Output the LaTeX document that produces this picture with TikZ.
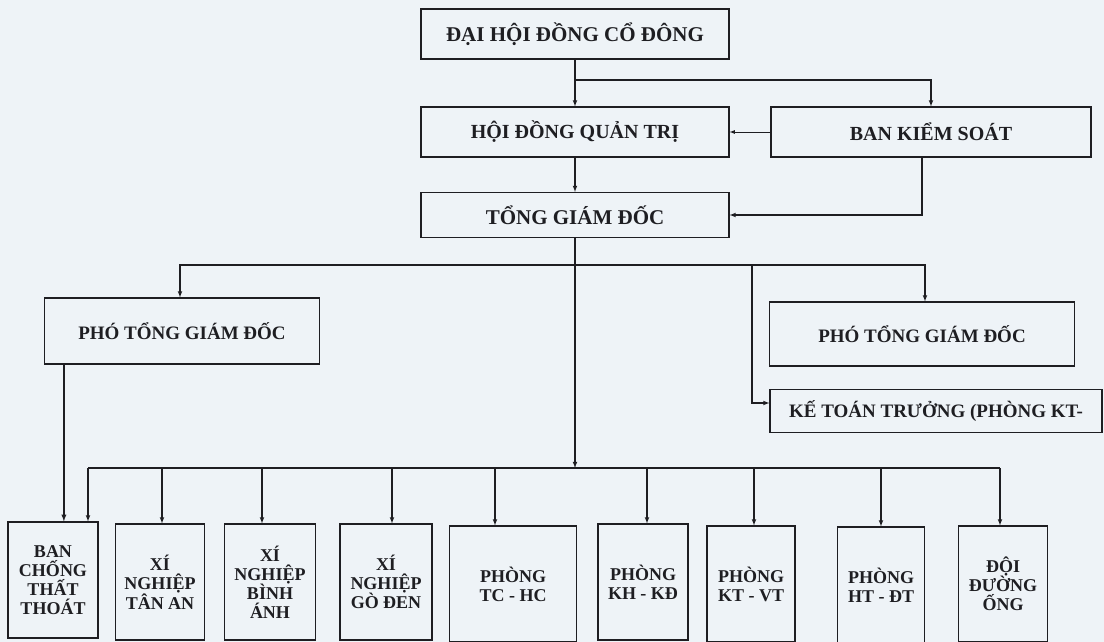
\documentclass[tikz,border=0pt]{standalone}
\usepackage{fontspec}
\setmainfont{Liberation Serif}
\definecolor{paper}{HTML}{EEF3F7}
\definecolor{ink}{HTML}{1E1E22}

\tikzset{
    orgbox/.style={draw=ink, line width=1.2pt, fill=paper, text=ink,
        font=\bfseries\fontsize{19}{21}\selectfont},
    topbox/.style={orgbox, minimum width=308pt, minimum height=50pt,
        font=\bfseries\fontsize{20}{22}\selectfont},
    unitbox/.style={orgbox, minimum height=116pt, align=center, inner sep=1pt,
        font=\bfseries\fontsize{18}{19}\selectfont},
    link/.style={draw=ink, line width=1.1pt, ->, >=latex}
}

\begin{document}
\begin{tikzpicture}[x=1pt,y=-1pt]
        \path[use as bounding box, fill=paper] (0,0) rectangle (1104,642);

        % upper levels
        \node[topbox, font=\bfseries\fontsize{21}{23}\selectfont] (dhdcd) at (575,34) {ĐẠI HỘI ĐỒNG CỔ ĐÔNG};
        \node[topbox] (hdqt) at (575,132) {HỘI ĐỒNG QUẢN TRỊ};
        \node[topbox, minimum width=320pt] (bks) at (931,132) {BAN KIỂM SOÁT};
        \node[topbox, minimum height=45pt, font=\bfseries\fontsize{21}{23}\selectfont] (tgd) at (575,215) {TỔNG GIÁM ĐỐC};
        \node[orgbox, minimum width=275pt, minimum height=66pt] (ptgdA) at (182,331) {PHÓ TỔNG GIÁM ĐỐC};
        \node[orgbox, minimum width=305pt, minimum height=64pt] (ptgdB) at (922,334) {PHÓ TỔNG GIÁM ĐỐC};
        \node[orgbox, minimum width=332pt, minimum height=43pt] (ktt) at (936,411) {KẾ TOÁN TRƯỞNG (PHÒNG KT-};

        % units
        \node[unitbox, minimum width=90pt] (ban) at (53,580) {BAN\\CHỐNG\\THẤT\\THOÁT};
        \node[unitbox, minimum width=89pt] (tanan) at (160,582) {XÍ\\NGHIỆP\\TÂN AN};
        \node[unitbox, minimum width=91pt] (binhanh) at (270,582) {XÍ\\NGHIỆP\\BÌNH\\ÁNH};
        \node[unitbox, minimum width=92pt] (goden) at (386,582) {XÍ\\NGHIỆP\\GÒ ĐEN};
        \node[unitbox, minimum width=127pt] (tchc) at (513,584) {PHÒNG\\TC - HC};
        \node[unitbox, minimum width=90pt] (khkd) at (643,582) {PHÒNG\\KH - KĐ};
        \node[unitbox, minimum width=88pt] (ktvt) at (751,584) {PHÒNG\\KT - VT};
        \node[unitbox, minimum width=87pt] (htdt) at (881,585) {PHÒNG\\HT - ĐT};
        \node[unitbox, minimum width=89pt] (doi) at (1003,584) {ĐỘI\\ĐƯỜNG\\ỐNG};

        \coordinate (split1) at (575,80);
        \coordinate (split2) at (575,265);
        \coordinate (split3) at (752,265);
        \coordinate (bus) at (575,468);

        \draw[link] (dhdcd) -- (hdqt);
        \draw[link] (split1) -| (bks.north);
        \draw[link, line width=0.8pt] (bks) -- (hdqt);
        \draw[link] (hdqt) -- (tgd);
        \draw[link] ([xshift=-9pt]bks.south) |- (tgd.east);
        \draw[link] (tgd) -- (bus);
        \draw[link] (split2) -| ([xshift=-2pt]ptgdA.north);
        \draw[link] (split2) -| ([xshift=3pt]ptgdB.north);
        \draw[link] (split3) |- ([yshift=8pt]ktt.west);
        \draw[link, line width=1.3pt] ([xshift=20pt]ptgdA.south west) -- ([xshift=20pt]ptgdA.south west |- ban.north);

        \draw[draw=ink, line width=1.1pt] ([xshift=35pt]ban.north |- bus) -- ([xshift=-3pt]doi.north |- bus);
        \foreach \unit/\dx in {ban/35, tanan/2, binhanh/-8, goden/6, tchc/-18, khkd/4, ktvt/3, htdt/0, doi/-3}
            \draw[link] ([xshift=\dx pt]\unit.north |- bus) -- ([xshift=\dx pt]\unit.north);
    \end{tikzpicture}
\end{document}
